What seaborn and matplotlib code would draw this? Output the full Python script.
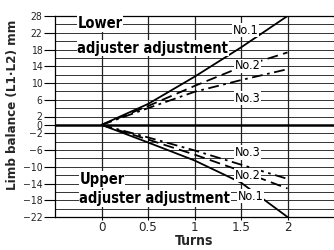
import matplotlib
matplotlib.use("Agg")
import matplotlib.pyplot as plt
import seaborn as sns
import pandas as pd
import numpy as np

turns = [0, 0.5, 1, 1.5, 2]
lower_no1 = [0, 5, 11.5, 18.5, 26]
lower_no2 = [0, 4.5, 9.3, 13.8, 17.3]
lower_no3 = [0, 4, 7.9, 10.7, 13.3]
upper_no1 = [0, -4.2, -8.5, -13.8, -22]
upper_no2 = [0, -3.5, -7.1, -11, -15.2]
upper_no3 = [0, -3, -6.1, -9.5, -12.9]

ytick_pos = [26, 22, 18, 14, 10, 6, 2, 0, -2, -6, -10, -14, -18, -22]
ytick_labels = ["28", "22", "18", "14", "10", "6", "2", "0", "\u22122", "\u22126",
                "\u221210", "\u221214", "\u221218", "\u221222"]
xtick_pos = [0, 0.5, 1, 1.5, 2]
xtick_labels = ["0", "0.5", "1", "1.5", "2"]

sns.set_theme(style="white")
plt.rcParams['font.family'] = ['DejaVu Sans']
plt.rcParams['font.stretch'] = 'condensed'

fig = plt.figure(figsize=(3.34, 2.5), dpi=100)
ax = fig.add_axes([0.165, 0.132, 0.835, 0.804])

# grid
for yv in np.arange(-22, 27, 2):
    ax.axhline(yv, color="#333333", lw=0.7, zorder=1)
for xv in np.arange(0, 2.01, 0.5):
    ax.axvline(xv, color="#222222", lw=0.9, zorder=1)
ax.axhline(0, color="black", lw=1.8, zorder=2)

series = [
    (lower_no1, "-", None),
    (lower_no2, "--", (6, 3)),
    (lower_no3, "-.", (6, 2.5, 1.5, 2.5)),
    (upper_no1, "-", None),
    (upper_no2, "--", (6, 3)),
    (upper_no3, "-.", (6, 2.5, 1.5, 2.5)),
]
for vals, ls, dash in series:
    df = pd.DataFrame({"turns": turns, "val": vals})
    sns.lineplot(data=df, x="turns", y="val", ax=ax, color="black", lw=1.3,
                 linestyle=ls, zorder=3)
    line = ax.lines[-1]
    if dash is not None:
        line.set_dashes(dash)

box = dict(facecolor="white", edgecolor="none", pad=0.5)
tkw = dict(fontsize=10.5, fontweight="bold", fontstretch="condensed", color="black",
           zorder=4, bbox=box, va="center", ha="left")
ax.text(-0.26, 24.2, "Lower", **tkw)
ax.text(-0.26, 18.3, "adjuster adjustment", **tkw)
ax.text(-0.24, -13.0, "Upper", **tkw)
ax.text(-0.24, -17.6, "adjuster adjustment", **tkw)

lkw = dict(fontsize=9, fontstretch="condensed", color="black", zorder=4, bbox=box,
           va="center", ha="center")
ax.text(1.55, 22.6, "No.1", **lkw)
ax.text(1.57, 14.1, "No.2", **lkw)
ax.text(1.57, 6.4, "No.3", **lkw)
ax.text(1.57, -6.6, "No.3", **lkw)
ax.text(1.57, -12.0, "No.2", **lkw)
ax.text(1.6, -17.0, "No.1", **lkw)

ax.set_xlim(-0.5, 2.5)
ax.set_ylim(-22, 26)
ax.set_yticks(ytick_pos)
ax.set_yticklabels(ytick_labels, fontsize=7.5, fontstretch="condensed")
ax.set_xticks(xtick_pos)
ax.set_xticklabels(xtick_labels, fontsize=9.5, fontstretch="condensed")
ax.tick_params(axis="y", length=8, width=0.8, color="black", pad=1, left=True)
ax.tick_params(axis="x", length=2, width=0.8, color="black", pad=1, bottom=True)
ax.set_xlabel("Turns", fontsize=10, fontweight="bold", fontstretch="condensed", labelpad=0)
ax.set_ylabel("Limb balance (L1\u00b7L2) mm", fontsize=9.5, fontweight="bold",
              fontstretch="condensed", labelpad=1)
ax.yaxis.set_label_coords(-0.13, 0.56)
for s in ["left", "top", "bottom"]:
    ax.spines[s].set_color("black")
    ax.spines[s].set_linewidth(0.9)
ax.spines["right"].set_visible(False)

fig.savefig("out.png", dpi=100)
